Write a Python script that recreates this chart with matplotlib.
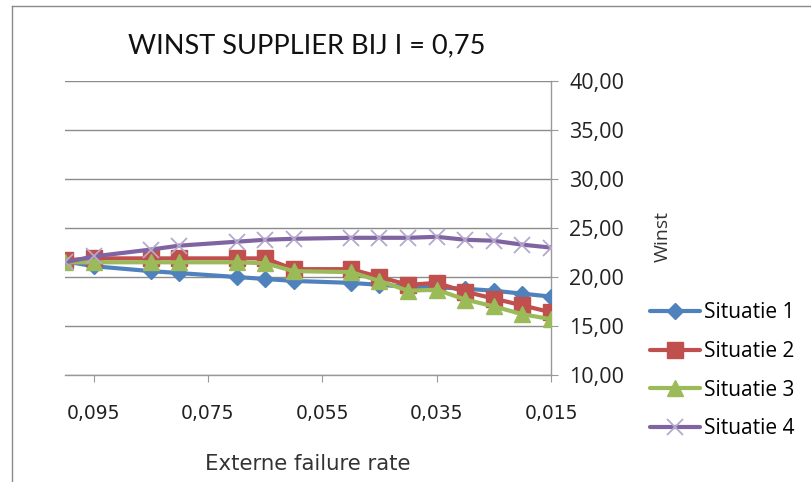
import matplotlib
matplotlib.use("Agg")
import matplotlib.pyplot as plt
from matplotlib.lines import Line2D

# Externe failure rate (x) and profit per scenario (y)
failure_rate = [0.100, 0.095, 0.085, 0.080, 0.070, 0.065, 0.060, 0.050,
                0.045, 0.040, 0.035, 0.030, 0.025, 0.020, 0.015]
situatie_1 = [21.6, 21.1, 20.6, 20.4, 20.0, 19.8, 19.6, 19.4,
              19.2, 19.0, 18.95, 18.8, 18.6, 18.3, 18.0]
situatie_2 = [21.7, 21.9, 21.9, 21.9, 21.9, 21.9, 20.8, 20.8,
              20.0, 19.2, 19.4, 18.5, 17.8, 17.1, 16.4]
situatie_3 = [21.5, 21.5, 21.5, 21.5, 21.5, 21.4, 20.6, 20.5,
              19.6, 18.6, 18.7, 17.7, 17.0, 16.2, 15.7]
situatie_4 = [21.5, 22.1, 22.8, 23.2, 23.6, 23.8, 23.9, 24.0,
              24.0, 24.0, 24.1, 23.8, 23.7, 23.3, 23.0]

series_names = ["Situatie 1", "Situatie 2", "Situatie 3", "Situatie 4"]
x_ticks = [0.095, 0.075, 0.055, 0.035, 0.015]
x_ticklabels = ["0,095", "0,075", "0,055", "0,035", "0,015"]
y_ticks = [10, 15, 20, 25, 30, 35, 40]
y_ticklabels = ["10,00", "15,00", "20,00", "25,00", "30,00", "35,00", "40,00"]

W, H = 811, 482
fig = plt.figure(figsize=(W / 100, H / 100), dpi=100)
fig.patch.set_facecolor("white")

left, right, top, bottom = 65, 551, 81, 375
ax = fig.add_axes([left / W, 1 - bottom / H, (right - left) / W, (bottom - top) / H])

y_font = "Open Sans"
x_font = "DejaVu Sans"
styles = [
    dict(color="#4F81BD", marker="D", ms=8, mfc="#4F81BD", mec="#4F81BD"),
    dict(color="#C0504D", marker="s", ms=11, mfc="#C0504D", mec="#C0504D"),
    dict(color="#9BBB59", marker="^", ms=11, mfc="#9BBB59", mec="#9BBB59"),
    dict(color="#8064A2", marker="x", ms=11, mfc="none", mec="#B4A8CC", mew=1.3),
]
for ys, name, st in zip([situatie_1, situatie_2, situatie_3, situatie_4], series_names, styles):
    ax.plot(failure_rate, ys, lw=3.0, label=name, zorder=3, solid_capstyle="round", **st)

ax.set_xlim(0.100, 0.015)
ax.set_ylim(10, 40)
ax.set_xticks(x_ticks)
ax.set_xticklabels([])
# category labels sit well below the axis line
for xv, lab in zip(x_ticks, x_ticklabels):
    ax.text(xv, -0.13, lab, transform=ax.get_xaxis_transform(), ha="center",
            va="center", fontsize=13.5, family=x_font, color="#222222")
ax.set_yticks(y_ticks)
ax.set_yticklabels(y_ticklabels, fontsize=15.5, family=y_font, color="#222222")

ax.yaxis.tick_right()
ax.yaxis.set_label_position("right")
ax.tick_params(axis="y", direction="out", length=5, color="#999999", pad=8)
ax.tick_params(axis="x", direction="out", length=5, color="#999999")

ax.grid(axis="y", color="#8c8c8c", lw=1.0, zorder=0)
for side in ["top", "left"]:
    ax.spines[side].set_visible(False)
for side in ["right", "bottom"]:
    ax.spines[side].set_color("#999999")
    ax.spines[side].set_linewidth(1.0)

ax.set_ylabel("Winst", fontsize=14, family=y_font, color="#333333", rotation=90)
ax.yaxis.set_label_coords(1.212, 0.47)
ax.set_xlabel("Externe failure rate", fontsize=15.3, family=x_font, color="#333333")
ax.xaxis.set_label_coords(0.5, -0.27)

fig.text(307 / W, 1 - 46 / H, "WINST SUPPLIER BIJ I = 0,75", fontsize=19.5,
         family="Lato", ha="center", va="center", color="#111111")

leg = fig.legend(loc="upper left", bbox_to_anchor=(642 / W, 1 - 294 / H),
                 frameon=False, prop={"family": y_font, "size": 15},
                 handlelength=2.4, labelspacing=0.85, handletextpad=0.2,
                 borderaxespad=0)

# chart frame lines
fig.add_artist(Line2D([12 / W, 12 / W], [0, 1 - 6 / H], transform=fig.transFigure,
                      color="#8a8a8a", lw=1.0))
fig.add_artist(Line2D([12 / W, 1], [1 - 6 / H, 1 - 6 / H], transform=fig.transFigure,
                      color="#8a8a8a", lw=1.0))

fig.savefig("out.png", dpi=100, facecolor="white")
